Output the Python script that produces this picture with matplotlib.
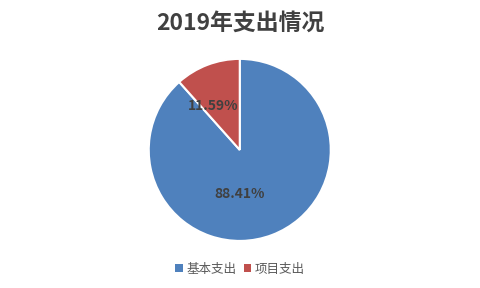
import matplotlib
matplotlib.use("Agg")
import matplotlib.pyplot as plt
from matplotlib.patches import Patch

plt.rcParams['font.family'] = ['Noto Sans CJK SC', 'DejaVu Sans']

# data
categories = ['基本支出', '项目支出']
shares = [88.41, 11.59]
colors = ['#4F81BD', '#C0504D']
pct_labels = ['88.41%', '11.59%']

fig = plt.figure(figsize=(4.8, 2.88), dpi=100)
ax = fig.add_axes([0.308, 0.16, 0.383, 0.639])

wedges, _ = ax.pie(shares, colors=colors, startangle=90, counterclock=False,
                   wedgeprops=dict(edgecolor='white', linewidth=1.5))
ax.set_xlim(-1.01, 1.01)
ax.set_ylim(-1.01, 1.01)
ax.set_aspect('equal')

# label positions (fraction of radius), Excel best-fit style
label_pos = [(0.0, -0.48), (-0.29, 0.48)]
for lab, (x, y) in zip(pct_labels, label_pos):
    ax.text(x, y, lab, ha='center', va='center', fontsize=10,
            fontweight='bold', color='#404040')

fig.text(0.5, 0.92, '2019年支出情况', ha='center', va='center',
         fontsize=16.5, fontweight='bold', color='#404040')

handles = [Patch(facecolor=c, edgecolor='none') for c in colors]
fig.legend(handles, categories, loc='center', bbox_to_anchor=(0.5, 0.065),
           ncol=2, frameon=False, fontsize=9, handlelength=0.6, handleheight=0.6,
           handletextpad=0.3, columnspacing=0.6, labelcolor='#595959')

fig.savefig('out.png', dpi=100)
